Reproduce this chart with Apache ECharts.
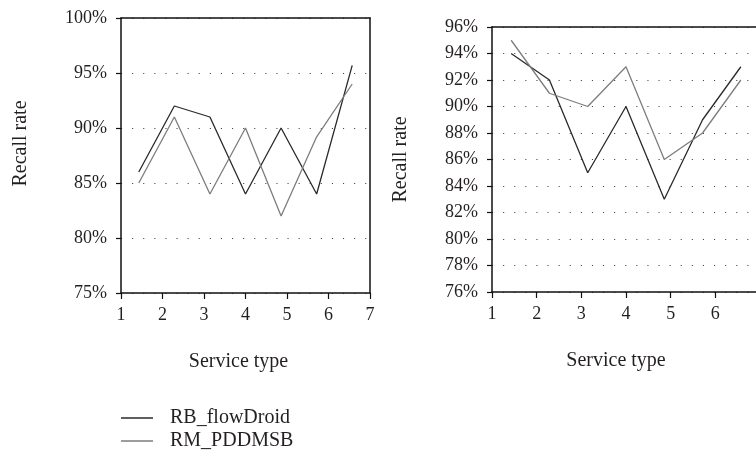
<!DOCTYPE html>
<html>
<head>
<meta charset="utf-8">
<script src="https://cdn.jsdelivr.net/npm/echarts@6/dist/echarts.min.js"></script>
<style>
html,body{margin:0;padding:0;background:#fff;}
#c{width:756px;height:451px;}
</style>
</head>
<body>
<div id="c"></div>
<script>
// Data
const serviceTypes = ["1", "2", "3", "4", "5", "6", "7"];
const xTickLabels = [1, 2, 3, 4, 5, 6, 7];
const leftFlowDroid = [86, 92, 91, 84, 90, 84, 95.7];
const leftPDDMSB = [85, 91, 84, 90, 82, 89.2, 94];
const rightFlowDroid = [94, 92, 85, 90, 83, 89, 93];
const rightPDDMSB = [95, 91, 90, 93, 86, 88, 92];
const seriesNames = ["RB_flowDroid", "RM_PDDMSB"];

const FONT = "Liberation Serif";
const TXT = "#231f20";
const BLACK = "#2a2a2a";
const GRAY = "#7d7d7d";

function valueX(grid, nameShift) {
  return {
    gridIndex: grid, type: "value", min: xTickLabels[0], max: xTickLabels[xTickLabels.length - 1], interval: 1,
    position: "bottom",
    axisLine: { show: true, onZero: false, lineStyle: { color: "#111", width: 1.5 } },
    axisTick: { show: true, inside: false, length: 6, lineStyle: { color: "#111", width: 1.2 } },
    axisLabel: { margin: 13, color: TXT, fontFamily: FONT, fontSize: 18 },
    splitLine: { show: false },
    name: "Service type", nameLocation: "middle", nameGap: 59,
    nameTextStyle: { color: TXT, fontFamily: FONT, fontSize: 20, padding: [0, nameShift, 0, 0] }
  };
}
function catX(grid) {
  return {
    gridIndex: grid, type: "category", data: serviceTypes, boundaryGap: true, position: "top",
    axisLine: { show: true, onZero: false, lineStyle: { color: "#111", width: 1.5 } },
    axisTick: { show: false }, axisLabel: { show: false }, splitLine: { show: false }
  };
}
function valueY(grid, min, max, interval, gap, pad) {
  return {
    gridIndex: grid, type: "value", min: min, max: max, interval: interval, position: "left",
    axisLine: { show: true, onZero: false, lineStyle: { color: "#111", width: 1.5 } },
    axisTick: { show: true, inside: false, length: 5, lineStyle: { color: "#111", width: 1.2 } },
    axisLabel: { margin: 14, color: TXT, fontFamily: FONT, fontSize: 18, formatter: "{value}%" },
    splitLine: { show: true, lineStyle: { color: "#444", width: 1.1, type: [1.1, 10] } },
    name: "Recall rate", nameLocation: "middle", nameGap: gap,
    nameTextStyle: { color: TXT, fontFamily: FONT, fontSize: 20, padding: pad }
  };
}
function frameY(grid, min, max) {
  return {
    gridIndex: grid, type: "value", min: min, max: max, position: "right",
    axisLine: { show: true, onZero: false, lineStyle: { color: "#111", width: 1.5 } },
    axisTick: { show: false }, axisLabel: { show: false }, splitLine: { show: false }
  };
}
function line(name, data, xi, yi, color) {
  return {
    name: name, type: "line", data: data, xAxisIndex: xi, yAxisIndex: yi,
    symbol: "none", lineStyle: { color: color, width: 1.3 }, itemStyle: { color: color },
    emphasis: { disabled: true }, animation: false
  };
}

const chart = echarts.init(document.getElementById("c"), null, { renderer: "canvas" });
chart.setOption({
  animation: false,
  backgroundColor: "#fff",
  grid: [
    { left: 121, top: 18, width: 249, height: 275, containLabel: false, outerBoundsMode: "none" },
    { left: 492, top: 27, width: 268, height: 265, containLabel: false, outerBoundsMode: "none" }
  ],
  xAxis: [valueX(0, 14), catX(0), valueX(1, 20), catX(1)],
  yAxis: [
    valueY(0, 75, 100, 5, 90, [0, 0, 0, 24]), frameY(0, 75, 100),
    valueY(1, 76, 96, 2, 81, [0, 0, 0, 0]), frameY(1, 76, 96)
  ],
  legend: {
    orient: "vertical", left: 121, top: 408, padding: 0, itemGap: 3,
    icon: "rect", itemWidth: 32, itemHeight: 1.5,
    data: seriesNames,
    textStyle: { color: TXT, fontFamily: FONT, fontSize: 20, lineHeight: 20, padding: [0, 0, 0, 12] }
  },
  series: [
    line(seriesNames[0], leftFlowDroid, 1, 0, BLACK),
    line(seriesNames[1], leftPDDMSB, 1, 0, GRAY),
    line(seriesNames[0], rightFlowDroid, 3, 2, BLACK),
    line(seriesNames[1], rightPDDMSB, 3, 2, GRAY)
  ]
});
</script>
</body>
</html>
